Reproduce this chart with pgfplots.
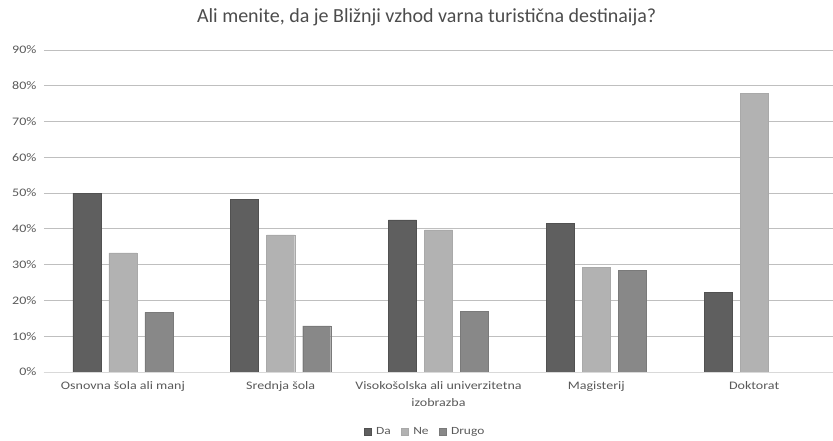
\documentclass[border=0pt]{standalone}
\usepackage{pgfplots}
\pgfplotsset{compat=1.18}
\usepackage{fontspec}
\setmainfont{Carlito}
\newfontfamily\wide{Carlito}[FakeStretch=1.22]
\definecolor{cda}{HTML}{5F5F5F}
\definecolor{cne}{HTML}{B2B2B2}
\definecolor{cdr}{HTML}{888888}
\definecolor{grid}{HTML}{D9D9D9}
\definecolor{txt}{HTML}{595959}
\begin{document}
\begin{tikzpicture}
\path[use as bounding box] (-44pt,-69pt) rectangle (789pt,372pt);
\begin{axis}[
  scale only axis, width=789pt, height=322pt,
  ybar, bar width=28pt,
  xmin=-0.5, xmax=4.5, ymin=0, ymax=90,
  xtick={0,1,2,3,4},
  xticklabels={Osnovna šola ali manj, Srednja šola, Visokošolska ali univerzitetna\\izobrazba, Magisterij, Doktorat},
  xticklabel style={align=center, font=\wide\fontsize{11.5}{17}\selectfont, text=txt, yshift=-6pt},
  ytick={0,10,...,90},
  yticklabels={0\%,10\%,20\%,30\%,40\%,50\%,60\%,70\%,80\%,90\%},
  yticklabel style={font=\wide\fontsize{11.5}{13}\selectfont, text=txt, xshift=-4pt},
  xmajorgrids=false, ymajorgrids, grid style={grid, line width=0.8pt},
  major tick length=0pt,
  axis x line*=bottom, axis y line*=left,
  x axis line style={grid, line width=0.8pt, -},
  y axis line style={draw=none},
  title={Ali menite, da je Bližnji vzhod varna turistična destinaija?},
  title style={at={(0.485,1)}, anchor=base, yshift=22pt, font=\fontsize{20}{22}\selectfont, text=txt!85!black},
  legend style={at={(0.483,0)}, anchor=center, yshift=-60pt, draw=none, fill=none, legend columns=-1, font=\wide\fontsize{11}{12}\selectfont, text=txt, /tikz/every odd column/.append style={column sep=3pt}, /tikz/every even column/.append style={column sep=8pt}},
  legend image code/.code={\fill[#1] (0pt,-3.5pt) rectangle (7pt,3.5pt);},
]
\addplot[fill=cda, draw=cda!85!black, bar shift=-36pt] coordinates {(0,50.0) (1,48.3) (2,42.5) (3,41.6) (4,22.2)};
\addplot[fill=cne, draw=cne!95!black, bar shift=0pt] coordinates {(0,33.3) (1,38.3) (2,39.7) (3,29.2) (4,77.8)};
\addplot[fill=cdr, draw=cdr!90!black, bar shift=36pt] coordinates {(0,16.7) (1,12.9) (2,17.0) (3,28.5)};
\legend{Da, Ne, Drugo}
\end{axis}
\end{tikzpicture}
\end{document}
